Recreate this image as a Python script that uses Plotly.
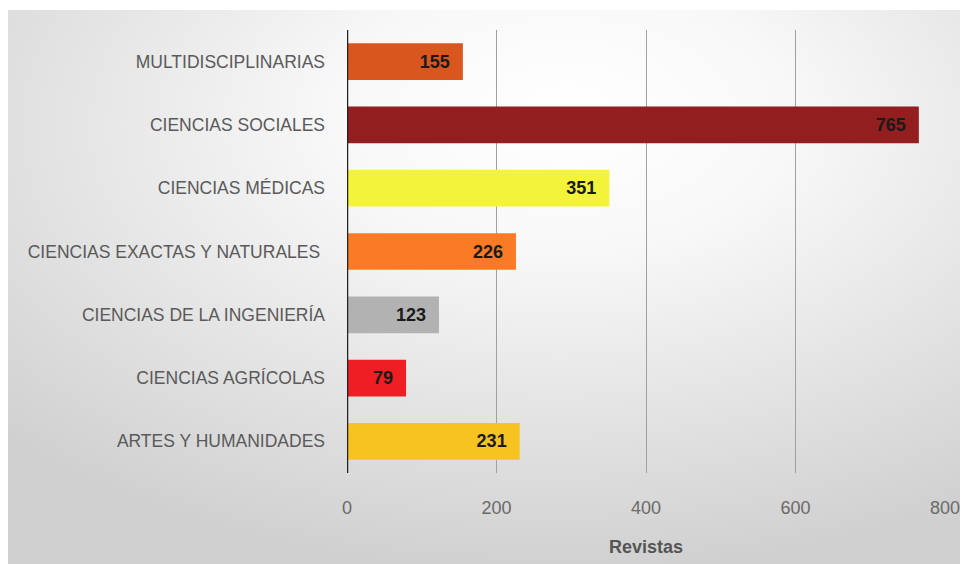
import base64
import plotly.graph_objects as go

categories = ["ARTES Y HUMANIDADES", "CIENCIAS AGRÍCOLAS", "CIENCIAS DE LA INGENIERÍA",
              "CIENCIAS EXACTAS Y NATURALES ", "CIENCIAS MÉDICAS", "CIENCIAS SOCIALES",
              "MULTIDISCIPLINARIAS"]
values = [231, 79, 123, 226, 351, 765, 155]
colors = ["#F7C320", "#EE1E22", "#B2B2B2", "#FA7A25", "#F3F33A", "#921E20", "#D9561F"]
x_ticks = [0, 200, 400, 600, 800]
x_title = "Revistas"

FONT = "Liberation Sans Narrow, Arial Narrow, Liberation Sans, Arial, sans-serif"

W, H = 968, 564
L, R, T, B = 339, 31, 22, 99
pw, ph = W - L - R, H - T - B

svg = """<svg xmlns='http://www.w3.org/2000/svg' width='968' height='562' preserveAspectRatio='none'>
<defs><radialGradient id='g' cx='0.56' cy='0.22' r='0.78' fx='0.58' fy='0.18'>
<stop offset='0' stop-color='#ffffff'/><stop offset='0.3' stop-color='#f8f8f8'/>
<stop offset='1' stop-color='#d0d0d0'/></radialGradient></defs>
<rect width='968' height='562' fill='url(#g)'/></svg>"""
svg_uri = "data:image/svg+xml;base64," + base64.b64encode(svg.encode()).decode()

fig = go.Figure()
fig.add_trace(go.Bar(
    y=categories, x=values, orientation="h",
    marker=dict(color=colors, line=dict(width=0)),
    width=0.58,
    text=[str(v) for v in values], textposition="inside", insidetextanchor="end",
    textfont=dict(family=FONT, size=18, color="#1a1a1a"),
    texttemplate="<b>%{text}</b>\u00a0\u00a0",
    cliponaxis=False,
))

fig.add_layout_image(dict(
    source=svg_uri, xref="paper", yref="paper",
    x=(0 - L) / pw, y=(H - B - 2) / ph,
    sizex=W / pw, sizey=(H - 2) / ph,
    sizing="stretch", layer="below", xanchor="left", yanchor="top",
))

fig.update_layout(
    width=W, height=H,
    margin=dict(l=L, r=R, t=T, b=B),
    paper_bgcolor="white", plot_bgcolor="rgba(0,0,0,0)",
    showlegend=False,
    font=dict(family=FONT, color="#595959"),
    xaxis=dict(
        range=[0, 800], tickvals=x_ticks, ticktext=[str(t) for t in x_ticks],
        showgrid=True, gridcolor="#a0a0a0", gridwidth=1,
        zeroline=False, showline=False, ticks="",
        tickfont=dict(size=18, color="#6a6a6a"), ticklabelstandoff=22,
        title=dict(text="<b>" + x_title + "</b>", font=dict(size=18, color="#555555"), standoff=23),
    ),
    yaxis=dict(
        showgrid=False, zeroline=False, ticks="", showline=False,
        tickfont=dict(size=17.5, color="#5a5a5a"), ticklabelstandoff=21,
        range=[-0.5, 6.5],
    ),
)
fig.add_shape(type="line", xref="x", yref="paper", x0=0, x1=0, y0=0, y1=1,
              line=dict(color="#222222", width=2.5))
fig.write_html("out.html")
